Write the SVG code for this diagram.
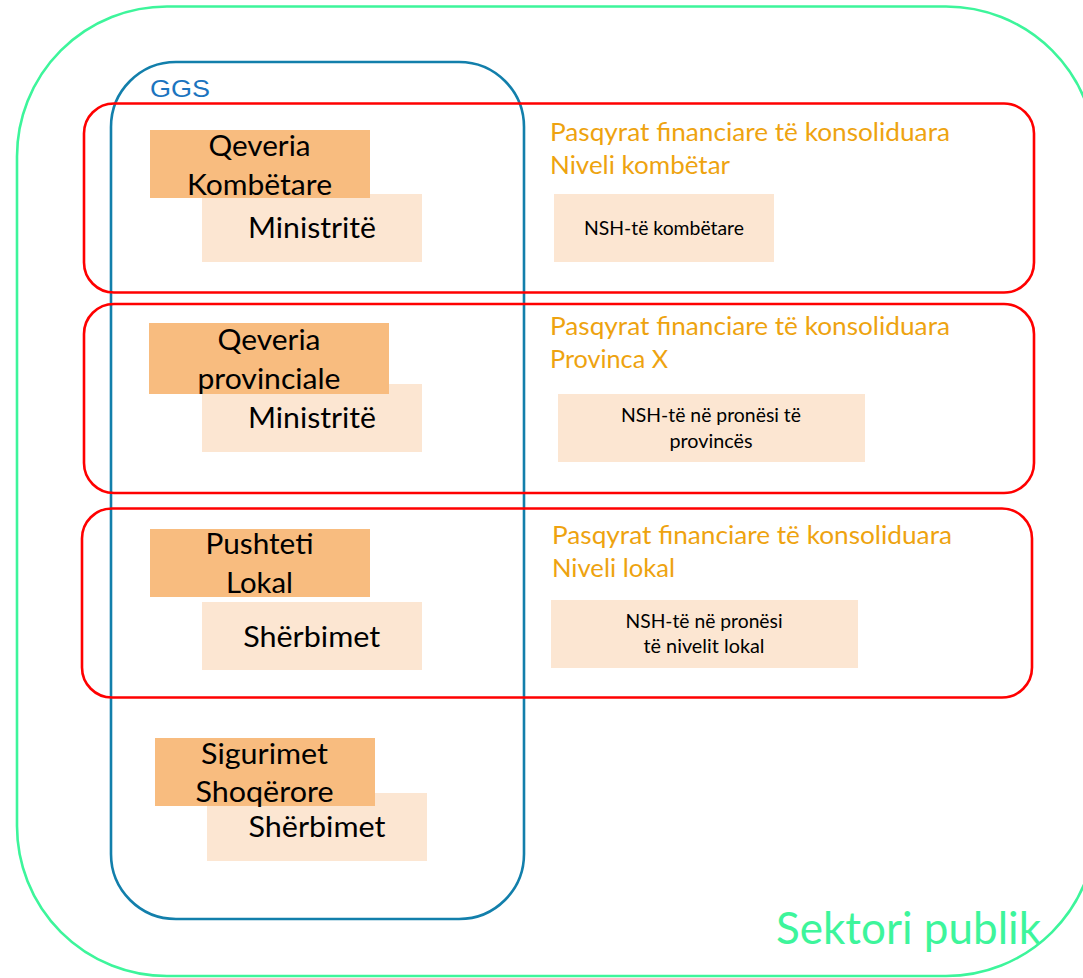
<svg xmlns="http://www.w3.org/2000/svg" width="1083" height="978" viewBox="0 0 1083 978">
<style>
.lbl{font-family:Lato,"Open Sans","Liberation Sans",sans-serif;fill:#000;text-anchor:middle}
.big{font-size:29.5px}
.sm{font-size:19.4px}
.ttl{font-family:Lato,"Open Sans","Liberation Sans",sans-serif;font-size:24.5px;fill:#EEA30F}
.org{fill:#F8BC7F}
.pch{fill:#FCE6D2}
.red{fill:none;stroke:#FF0000;stroke-width:2.6}
</style>
<rect width="1083" height="978" fill="#FFFFFF"/>
<g id="sektori-publik">
<rect x="17" y="6.5" width="1079" height="969.5" rx="150" ry="150" fill="none" stroke="#3DF59B" stroke-width="2.6"/>
<text x="776" y="944" font-family="Lato,'Open Sans','Liberation Sans',sans-serif" font-size="44" fill="#3DF59B" textLength="265" lengthAdjust="spacingAndGlyphs">Sektori publik</text>
</g>
<g id="ggs">
<rect x="111" y="62" width="413" height="857" rx="65" ry="65" fill="none" stroke="#127FAB" stroke-width="2.6"/>
<text x="150" y="97" font-family="'Liberation Sans',Arial,sans-serif" font-size="24.5" fill="#1B74BF" textLength="60" lengthAdjust="spacingAndGlyphs">GGS</text>
</g>
<g id="niveli-kombetar">
<rect class="red" x="84" y="103.5" width="950" height="189" rx="30" ry="30"/>
<text class="ttl" x="550" y="141" textLength="400" lengthAdjust="spacingAndGlyphs">Pasqyrat financiare të konsoliduara</text>
<text class="ttl" x="550" y="174" textLength="180" lengthAdjust="spacingAndGlyphs">Niveli kombëtar</text>
</g>
<g id="provinca-x">
<rect class="red" x="84" y="304" width="950" height="189" rx="30" ry="30"/>
<text class="ttl" x="550" y="335" textLength="400" lengthAdjust="spacingAndGlyphs">Pasqyrat financiare të konsoliduara</text>
<text class="ttl" x="550" y="368.3" textLength="118" lengthAdjust="spacingAndGlyphs">Provinca X</text>
</g>
<g id="niveli-lokal">
<rect class="red" x="82" y="508.5" width="950" height="189" rx="30" ry="30"/>
<text class="ttl" x="552" y="544.3" textLength="400" lengthAdjust="spacingAndGlyphs">Pasqyrat financiare të konsoliduara</text>
<text class="ttl" x="552" y="576.7" textLength="123" lengthAdjust="spacingAndGlyphs">Niveli lokal</text>
</g>
<g id="ministrite-1">
<rect class="pch" x="202" y="194" width="220" height="68"/>
<text class="lbl big" x="312" y="238" textLength="128" lengthAdjust="spacingAndGlyphs">Ministritë</text>
</g>
<g id="qeveria-kombetare">
<rect class="org" x="150" y="130" width="220" height="68"/>
<text class="lbl big" x="259.5" y="156" textLength="102" lengthAdjust="spacingAndGlyphs">Qeveria</text>
<text class="lbl big" x="259.5" y="195" textLength="145" lengthAdjust="spacingAndGlyphs">Kombëtare</text>
</g>
<g id="nsh-kombetare">
<rect class="pch" x="554" y="194" width="220" height="68"/>
<text class="lbl sm" x="664" y="235" textLength="160" lengthAdjust="spacingAndGlyphs">NSH-të kombëtare</text>
</g>
<g id="ministrite-2">
<rect class="pch" x="202" y="384" width="220" height="68"/>
<text class="lbl big" x="312" y="428.3" textLength="128" lengthAdjust="spacingAndGlyphs">Ministritë</text>
</g>
<g id="qeveria-provinciale">
<rect class="org" x="149" y="323" width="240" height="71"/>
<text class="lbl big" x="269" y="350" textLength="103" lengthAdjust="spacingAndGlyphs">Qeveria</text>
<text class="lbl big" x="269" y="389.3" textLength="143" lengthAdjust="spacingAndGlyphs">provinciale</text>
</g>
<g id="nsh-provinces">
<rect class="pch" x="558" y="394" width="307" height="68"/>
<text class="lbl sm" x="711" y="421.7" textLength="180" lengthAdjust="spacingAndGlyphs">NSH-të në pronësi të</text>
<text class="lbl sm" x="711" y="447.7" textLength="83" lengthAdjust="spacingAndGlyphs">provincës</text>
</g>
<g id="sherbimet-1">
<rect class="pch" x="202" y="602" width="220" height="68"/>
<text class="lbl big" x="311.7" y="646.7" textLength="137" lengthAdjust="spacingAndGlyphs">Shërbimet</text>
</g>
<g id="pushteti-lokal">
<rect class="org" x="150" y="529" width="220" height="68"/>
<text class="lbl big" x="259.5" y="554" textLength="108" lengthAdjust="spacingAndGlyphs">Pushteti</text>
<text class="lbl big" x="259.5" y="593.3" textLength="67" lengthAdjust="spacingAndGlyphs">Lokal</text>
</g>
<g id="nsh-lokal">
<rect class="pch" x="551" y="600" width="307" height="68"/>
<text class="lbl sm" x="704" y="628.3" textLength="157" lengthAdjust="spacingAndGlyphs">NSH-të në pronësi</text>
<text class="lbl sm" x="704" y="653.3" textLength="121" lengthAdjust="spacingAndGlyphs">të nivelit lokal</text>
</g>
<g id="sherbimet-2">
<rect class="pch" x="207" y="793" width="220" height="68"/>
<text class="lbl big" x="317" y="837.3" textLength="137" lengthAdjust="spacingAndGlyphs">Shërbimet</text>
</g>
<g id="sigurimet-shoqerore">
<rect class="org" x="155" y="738" width="220" height="68"/>
<text class="lbl big" x="264.5" y="764" textLength="127" lengthAdjust="spacingAndGlyphs">Sigurimet</text>
<text class="lbl big" x="264.5" y="801.7" textLength="138" lengthAdjust="spacingAndGlyphs">Shoqërore</text>
</g>
</svg>
